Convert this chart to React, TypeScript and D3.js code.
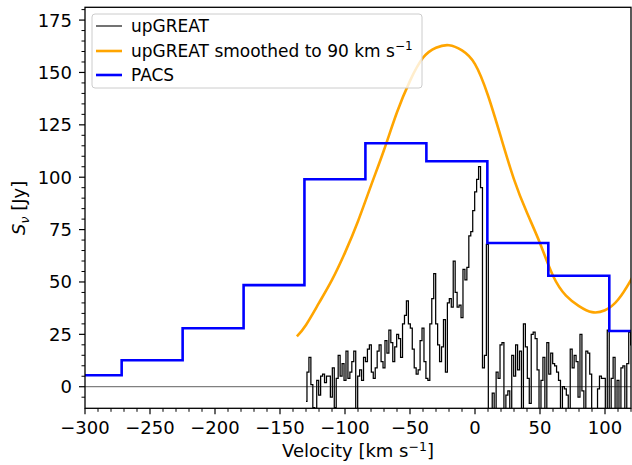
import React from 'react';
import * as d3 from 'd3';

// ---- data ----
// upGREAT spectrum: channel start velocity and width (km/s), flux per channel (Jy)
const GREAT_START = -130;
const GREAT_WIDTH = 1.5;
const greatFlux = [
  -7, 7, 14, 1, -10, -11, 3, -4, 5, 6,
  2, 5, 5, -5, 9, -10, 4, 15, 5, 11,
  3, 17, 4, 7, 12, 17, -11, 5, 8, 3,
  14, 12, 18, 20, 7, 4, 9, 17, 20, 12,
  9, 22, 16, 27, 21, 12, 19, 25, 23, 14,
  30, 34, 41, 30, 28, 18, 9, 6, 8, 22,
  28, 12, 4, 3, 30, 42, 54, 30, 20, 12,
  19, 32, 7, 40, 42, 38, 60, 45, 38, 39,
  33, 56, 51, 57, 72, 74, 84, 93, 99, 105,
  95, 9, 15, 68, -11, -11, -3, -12, 7, 4,
  20, 21, -11, -4, -2, -11, 15, 5, 20, 8,
  17, -11, 30, 19, 4, -8, 25, 26, 23, 8,
  -11, 3, 14, -11, 21, 6, 16, 11, 10, 7,
  3, -11, 0, -1, -4, -11, 18, 9, 15, 12,
  -5, 25, -2, -11, 17, 16, 6, -11, -11, -11,
  -1, 5, 4, 4, -11, 27, -11, 4, 14, -11,
  3, -11, 9, 10, -11, 11, 26, 20,
];

// upGREAT smoothed to 90 km/s
const smoothVel = [-137, -130, -120, -110, -100, -90, -80, -70, -60, -50, -40, -30, -20, -10, 0, 10, 20, 30, 40, 50, 60, 70, 80, 90, 100, 110, 120, 125];
const smoothFlux = [24, 29.5, 40, 51, 64, 79, 96, 113, 131, 146, 157, 161.8, 163, 160.5, 154, 139, 119, 99, 83, 68.5, 53, 43.5, 38.5, 35.6, 36.5, 41.5, 51, 57];

// PACS bins: edges and values
const pacsEdges = [-318.7, -271.8, -224.9, -178.0, -131.2, -84.3, -37.4, 9.5, 56.4, 103.3, 150.2];
const pacsFlux = [5.5, 12.6, 27.9, 48.5, 99, 116.2, 107.6, 68.6, 53, 26.6];

const xMajor = [-300, -250, -200, -150, -100, -50, 0, 50, 100];
const yMajor = [0, 25, 50, 75, 100, 125, 150, 175];

const W = 632, H = 465;
const X0 = 85, X1 = 631, Y0 = 408.3, Y1 = 7.3;
const FONT = 'DejaVu Sans, sans-serif';

const fmt = (v: number) => (v < 0 ? '\u2212' + Math.abs(v) : String(v));

export default function App() {
  const x = d3.scaleLinear().domain([-300, 120]).range([X0, X1]);
  const y = d3.scaleLinear().domain([-10.3, 181.1]).range([Y0, Y1]);

  const xMinor = d3.range(-300, 121, 10).filter(v => v % 50 !== 0);
  const yMinor = d3.range(-5, 181, 5).filter(v => v % 25 !== 0);

  const greatPts: [number, number][] = greatFlux.map((f, i) => [GREAT_START + i * GREAT_WIDTH, f]);
  const greatPath = d3.line<[number, number]>().x(d => x(d[0])).y(d => y(d[1])).curve(d3.curveStep)(greatPts) || '';

  const smoothPts: [number, number][] = smoothVel.map((v, i) => [v, smoothFlux[i]]);
  const smoothPath = d3.line<[number, number]>().x(d => x(d[0])).y(d => y(d[1])).curve(d3.curveNatural)(smoothPts) || '';

  const pacsPts: [number, number][] = pacsEdges.map((e, i) => [e, pacsFlux[Math.min(i, pacsFlux.length - 1)]]);
  const pacsPath = d3.line<[number, number]>().x(d => x(d[0])).y(d => y(d[1])).curve(d3.curveStepAfter)(pacsPts) || '';

  const legX = 92, legY = 14, legW = 330, legH = 74;
  const rows = [26, 51, 75];

  return (
    <div style={{ position: 'absolute', left: 0, top: 0 }}>
      <svg width={W} height={H} style={{ display: 'block', background: '#fff' }} fontFamily={FONT}>
        <defs>
          <clipPath id="plotclip">
            <rect x={X0} y={Y1} width={X1 - X0} height={Y0 - Y1} />
          </clipPath>
        </defs>
        <g clipPath="url(#plotclip)">
          <line x1={X0} x2={X1} y1={y(0)} y2={y(0)} stroke="#808080" strokeWidth={1.3} />
          <path d={greatPath} fill="none" stroke="#000" strokeWidth={1.25} />
          <path d={smoothPath} fill="none" stroke="#FFA500" strokeWidth={2.6} />
          <path d={pacsPath} fill="none" stroke="#0000FF" strokeWidth={2.6} />
        </g>

        {/* spines */}
        <rect x={X0} y={Y1} width={X1 - X0} height={Y0 - Y1} fill="none" stroke="#000" strokeWidth={1.3} />

        {/* x ticks */}
        {xMinor.map(v => (
          <line key={'xm' + v} x1={x(v)} x2={x(v)} y1={Y0} y2={Y0 + 3.5} stroke="#000" strokeWidth={1} />
        ))}
        {xMajor.map(v => (
          <g key={'xM' + v}>
            <line x1={x(v)} x2={x(v)} y1={Y0} y2={Y0 + 6} stroke="#000" strokeWidth={1.2} />
            <text x={x(v)} y={434} textAnchor="middle" fontSize={18} fill="#000">{fmt(v)}</text>
          </g>
        ))}
        {/* y ticks */}
        {yMinor.map(v => (
          <line key={'ym' + v} x1={X0 - 3.5} x2={X0} y1={y(v)} y2={y(v)} stroke="#000" strokeWidth={1} />
        ))}
        {yMajor.map(v => (
          <g key={'yM' + v}>
            <line x1={X0 - 6} x2={X0} y1={y(v)} y2={y(v)} stroke="#000" strokeWidth={1.2} />
            <text x={72} y={y(v)} dy="0.36em" textAnchor="end" fontSize={18} fill="#000">{fmt(v)}</text>
          </g>
        ))}

        {/* axis labels */}
        <text x={(X0 + X1) / 2} y={457} textAnchor="middle" fontSize={18} fill="#000">
          Velocity [km s<tspan fontSize={12.5} dy={-6.5}>{'\u22121'}</tspan><tspan dy={6.5}>]</tspan>
        </text>
        <text transform={`translate(25,${(Y0 + Y1) / 2}) rotate(-90)`} textAnchor="middle" fontSize={18} fill="#000">
          <tspan fontStyle="italic">S</tspan><tspan fontSize={12.5} fontStyle="italic" dy={4}>{'\u03BD'}</tspan><tspan dy={-4}> [Jy]</tspan>
        </text>

        {/* legend */}
        <rect x={legX} y={legY} width={legW} height={legH} rx={3} fill="#fff" fillOpacity={0.8} stroke="#cccccc" strokeWidth={1} />
        <line x1={96} x2={122} y1={rows[0]} y2={rows[0]} stroke="#000" strokeWidth={1.1} />
        <line x1={96} x2={122} y1={rows[1]} y2={rows[1]} stroke="#FFA500" strokeWidth={2.6} />
        <line x1={96} x2={122} y1={rows[2]} y2={rows[2]} stroke="#0000FF" strokeWidth={2.6} />
        <text x={131} y={rows[0]} dy="0.36em" fontSize={17} fill="#000">upGREAT</text>
        <text x={131} y={rows[1]} dy="0.36em" fontSize={17} fill="#000">
          upGREAT smoothed to 90 km s<tspan fontSize={12} dy={-7}>{'\u22121'}</tspan>
        </text>
        <text x={131} y={rows[2]} dy="0.36em" fontSize={17} fill="#000">PACS</text>
      </svg>
    </div>
  );
}
